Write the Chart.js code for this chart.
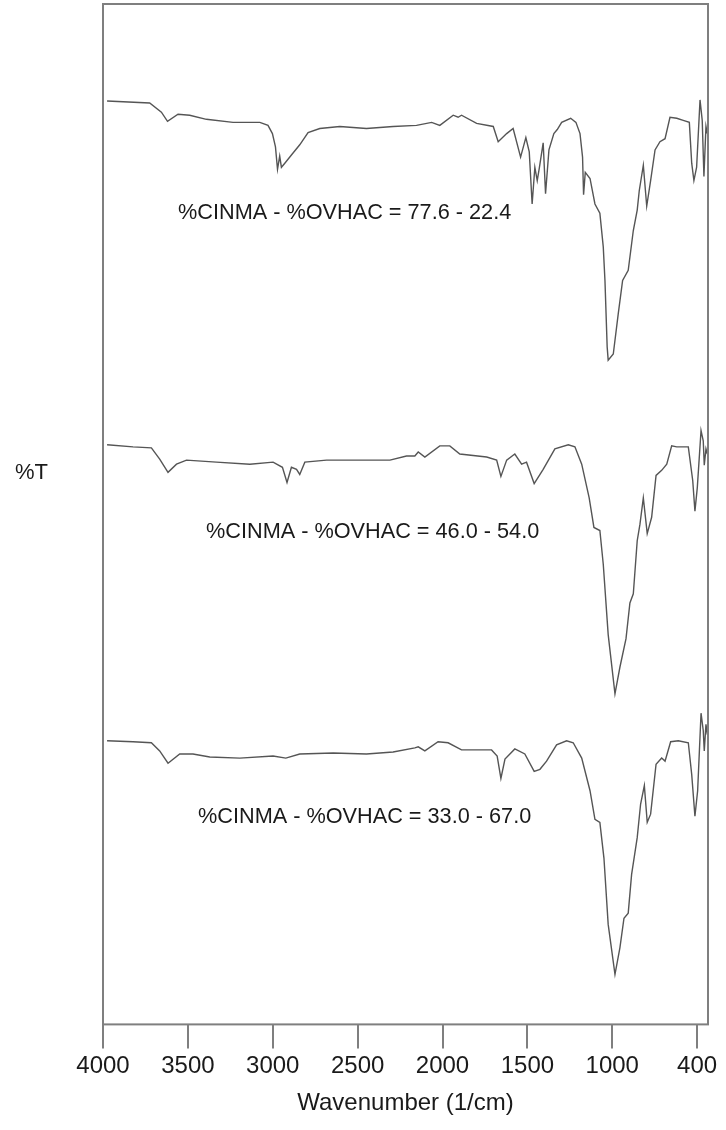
<!DOCTYPE html>
<html>
<head>
<meta charset="utf-8">
<script src="https://cdn.jsdelivr.net/npm/chart.js@4.4.1/dist/chart.umd.min.js"></script>
<style>
  body { margin: 0; background: #fff; }
  canvas { display: block; }
</style>
</head>
<body>
<canvas id="ftir" width="726" height="1130"></canvas>
<script>
// wavenumber (1/cm) and offset %T
const wnTop = [3976,3725,3656,3620,3558,3489,3391,3234,3076,3028,3002,2984,2972,2959,2949,2929,2890,2841,2792,2723,2605,2448,2291,2153,2064,2016,1937,1908,1888,1799,1701,1672,1622,1584,1540,1509,1489,1472,1456,1442,1430,1407,1393,1373,1344,1324,1298,1245,1214,1190,1175,1169,1159,1131,1102,1073,1053,1043,1030,1024,994,965,939,906,876,853,841,817,797,774,748,719,689,660,620,582,546,532,519,503,483,470,460,448,440];
const tTop = [90.5,90.3,89.4,88.5,89.2,89.1,88.7,88.4,88.4,88.1,87.3,86.0,83.8,85.1,84.0,84.4,85.2,86.2,87.4,87.8,88.0,87.8,88.0,88.1,88.4,88.1,89.1,88.9,89.1,88.3,88.0,86.5,87.3,87.8,85.0,86.9,85.5,80.4,84.0,82.7,83.9,86.4,81.4,85.7,87.3,87.7,88.4,88.8,88.4,87.3,85.0,81.3,83.5,82.9,80.4,79.5,76.2,72.9,66.4,65.1,65.7,69.6,72.9,73.9,77.8,79.8,81.7,84.2,80.2,82.7,85.7,86.5,86.8,88.9,88.8,88.6,88.4,84.4,82.7,84.0,90.6,88.6,83.1,88.0,87.3];

const wnMid = [3976,3823,3715,3666,3617,3567,3508,3332,3135,2998,2943,2916,2890,2860,2841,2811,2683,2448,2310,2212,2163,2143,2104,2016,1957,1898,1740,1681,1656,1622,1574,1534,1505,1460,1407,1338,1259,1220,1180,1136,1108,1073,1053,1024,984,955,919,896,876,853,837,817,794,768,742,709,679,650,620,552,526,513,499,477,464,458,448,440];
const tMid = [56.8,56.6,56.5,55.4,54.1,54.9,55.3,55.1,54.9,55.1,54.6,53.1,54.6,54.4,53.9,55.1,55.3,55.3,55.3,55.7,55.7,56.1,55.6,56.7,56.7,55.9,55.6,55.3,53.7,55.3,55.9,54.9,55.1,53.0,54.4,56.4,56.8,56.6,54.9,51.6,48.7,48.4,45.1,38.2,32.4,35.0,37.8,41.3,42.2,47.4,49.0,51.6,48.1,49.7,53.8,54.3,54.9,56.7,56.6,56.6,53.3,50.3,52.6,58.2,57.2,54.8,56.4,55.9];

const wnLow = [3976,3823,3715,3666,3617,3548,3470,3371,3194,2998,2923,2841,2644,2448,2291,2163,2143,2104,2026,1967,1888,1711,1678,1656,1632,1574,1515,1460,1426,1387,1328,1269,1230,1180,1131,1102,1073,1049,1024,984,955,931,906,886,853,833,811,794,774,742,709,689,656,611,552,532,513,497,477,464,458,448,440];
const tLow = [27.8,27.7,27.6,26.8,25.6,26.5,26.5,26.2,26.1,26.3,26.1,26.5,26.6,26.5,26.7,27.1,27.2,26.8,27.7,27.6,26.9,26.9,26.3,24.1,26.0,27.0,26.5,24.8,25.0,25.8,27.4,27.8,27.6,26.1,22.9,20.1,19.8,16.3,9.8,4.9,7.5,10.4,10.9,14.7,18.3,21.6,23.4,19.8,20.6,25.5,26.1,25.8,27.7,27.8,27.6,24.5,20.4,22.9,30.5,28.8,26.8,29.4,28.4];

const tickValues = [4000, 3500, 3000, 2500, 2000, 1500, 1000, 500];
const tickLabels = ['4000', '3500', '3000', '2500', '2000', '1500', '1000', '400'];

const sampleLabels = [
  '%CINMA - %OVHAC = 77.6 - 22.4',
  '%CINMA - %OVHAC = 46.0 - 54.0',
  '%CINMA - %OVHAC = 33.0 - 67.0'
];

const toPoints = (xs, ys) => xs.map((x, i) => ({ x, y: ys[i] }));

const lineStyle = {
  borderColor: '#555555',
  borderWidth: 1.4,
  pointRadius: 0,
  tension: 0,
  fill: false
};

const extras = {
  id: 'extras',
  afterDraw(chart) {
    const { ctx, chartArea: a } = chart;
    ctx.save();
    ctx.strokeStyle = '#7f7f7f';
    ctx.lineWidth = 2;
    ctx.strokeRect(a.left, a.top, a.right - a.left, a.bottom - a.top);

    ctx.fillStyle = '#1a1a1a';
    ctx.textBaseline = 'middle';
    ctx.textAlign = 'left';
    ctx.font = '21.7px "Liberation Sans", Arial, sans-serif';
    const spots = [[178, 213], [206, 532], [198, 817]];
    sampleLabels.forEach((txt, i) => ctx.fillText(txt, spots[i][0], spots[i][1]));

    ctx.font = '22px "Liberation Sans", Arial, sans-serif';
    ctx.fillText('%T', 15, 473);
    ctx.restore();
  }
};

new Chart(document.getElementById('ftir').getContext('2d'), {
  type: 'line',
  data: {
    datasets: [
      { label: sampleLabels[0], data: toPoints(wnTop, tTop), ...lineStyle },
      { label: sampleLabels[1], data: toPoints(wnMid, tMid), ...lineStyle },
      { label: sampleLabels[2], data: toPoints(wnLow, tLow), ...lineStyle }
    ]
  },
  options: {
    responsive: false,
    animation: false,
    layout: { padding: { left: 103, right: 18, top: 4, bottom: 12 } },
    plugins: { legend: { display: false }, tooltip: { enabled: false } },
    scales: {
      x: {
        type: 'linear',
        reverse: true,
        min: 436,
        max: 4000,
        afterBuildTicks: axis => { axis.ticks = tickValues.map(v => ({ value: v })); },
        ticks: {
          color: '#1a1a1a',
          font: { family: '"Liberation Sans", Arial, sans-serif', size: 24 },
          padding: 4,
          maxRotation: 0,
          autoSkip: false,
          callback: (v, i) => tickLabels[i]
        },
        grid: { drawOnChartArea: false, drawTicks: true, tickLength: 24, color: '#7f7f7f', lineWidth: 2 },
        border: { display: false },
        title: {
          display: true,
          text: 'Wavenumber (1/cm)',
          color: '#1a1a1a',
          font: { family: '"Liberation Sans", Arial, sans-serif', size: 24 },
          padding: { top: 4, bottom: 0 }
        }
      },
      y: { display: false, min: 0, max: 100 }
    }
  },
  plugins: [extras]
});
</script>
</body>
</html>
